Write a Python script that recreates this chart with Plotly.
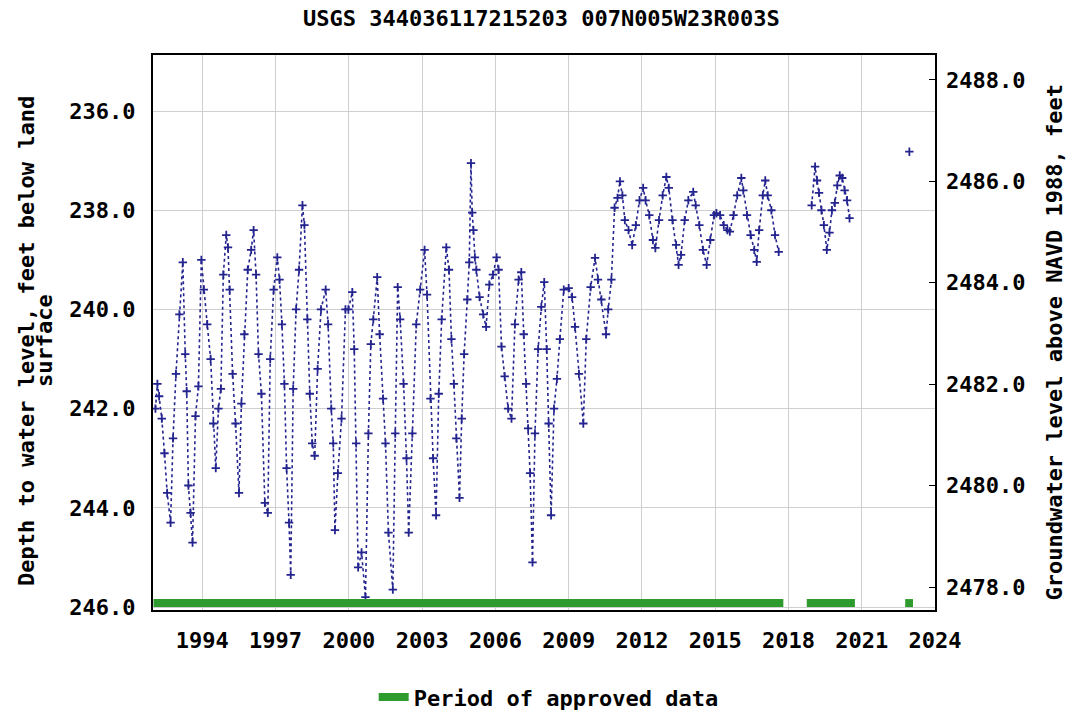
"""USGS kuyu seviyesi grafigi: derinlik (sol eksen) + NAVD 1988 kotu (sag eksen)."""
import plotly.graph_objects as go

_NAVY = "#24248f"
_GREEN = "#2e9b2e"
_FONT = "DejaVu Sans Mono"

TITLE = "USGS 344036117215203 007N005W23R003S"
LEFT_TITLE = ["Depth to water level, feet below land", "surface"]
RIGHT_TITLE = "Groundwater level above NAVD 1988, feet"

# olcum zamanlari (ondalik yil) ve derinlikler (ft, yuzeyden asagi); None = veri boslugu
YEARS = [
    1992.08, 1992.16, 1992.23, 1992.34, 1992.45, 1992.56, 1992.70, 1992.80, 1992.92, 1993.06,
    1993.20, 1993.30, 1993.36, 1993.43, 1993.52, 1993.60, 1993.72, 1993.84, 1993.96, 1994.06,
    1994.20, 1994.34, 1994.45, 1994.55, 1994.66, 1994.76, 1994.86, 1994.98, 1995.05, 1995.12,
    1995.24, 1995.36, 1995.50, 1995.60, 1995.72, 1995.86, 1996.00, 1996.10, 1996.20, 1996.30,
    1996.42, 1996.56, 1996.68, 1996.78, 1996.92, 1997.07, 1997.16, 1997.26, 1997.36, 1997.45,
    1997.55, 1997.62, 1997.72, 1997.84, 1997.96, 1998.10, 1998.18, 1998.30, 1998.40, 1998.50,
    1998.60, 1998.72, 1998.86, 1999.05, 1999.15, 1999.28, 1999.36, 1999.43, 1999.55, 1999.70,
    1999.86, 1999.98, 2000.14, 2000.22, 2000.30, 2000.38, 2000.52, 2000.68, 2000.80, 2000.90,
    2001.00, 2001.16, 2001.26, 2001.40, 2001.50, 2001.62, 2001.80, 2001.90, 2002.00, 2002.10,
    2002.24, 2002.36, 2002.45, 2002.60, 2002.76, 2002.92, 2003.10, 2003.20, 2003.34, 2003.45,
    2003.57, 2003.68, 2003.80, 2003.99, 2004.10, 2004.20, 2004.30, 2004.40, 2004.53, 2004.62,
    2004.72, 2004.85, 2004.93, 2005.00, 2005.05, 2005.10, 2005.16, 2005.22, 2005.35, 2005.50,
    2005.62, 2005.75, 2005.90, 2006.05, 2006.13, 2006.25, 2006.38, 2006.52, 2006.66, 2006.80,
    2006.95, 2007.06, 2007.16, 2007.26, 2007.34, 2007.42, 2007.52, 2007.62, 2007.75, 2007.88,
    2008.00, 2008.10, 2008.18, 2008.28, 2008.40, 2008.52, 2008.64, 2008.80, 2009.00, 2009.14,
    2009.26, 2009.42, 2009.60, 2009.72, 2009.90, 2010.08, 2010.20, 2010.34, 2010.53, 2010.62,
    2010.75, 2010.88, 2011.00, 2011.10, 2011.20, 2011.30, 2011.45, 2011.60, 2011.75, 2011.90,
    2012.05, 2012.15, 2012.30, 2012.45, 2012.55, 2012.70, 2012.85, 2013.00, 2013.10, 2013.25,
    2013.40, 2013.50, 2013.60, 2013.75, 2013.90, 2014.10, 2014.20, 2014.35, 2014.50, 2014.65,
    2014.80, 2014.95, 2015.05, 2015.20, 2015.35, 2015.50, 2015.60, 2015.75, 2015.90, 2016.07,
    2016.15, 2016.30, 2016.45, 2016.60, 2016.70, 2016.80, 2016.95, 2017.05, 2017.15, 2017.30,
    2017.45, 2017.60, None,
    2018.95, 2019.09, 2019.17, 2019.25, 2019.35, 2019.45, 2019.57, 2019.68, 2019.78, 2019.90,
    2020.00, 2020.10, 2020.20, 2020.30, 2020.40, 2020.50, None,
    2022.95,
]
DEPTHS = [
    242.0, 241.5, 241.75, 242.2, 242.9, 243.7, 244.3, 242.6, 241.3, 240.1,
    239.05, 240.9, 241.65, 243.55, 244.1, 244.7, 242.15, 241.55, 239.0, 239.6,
    240.3, 241.0, 242.3, 243.2, 242.0, 241.6, 239.3, 238.5, 238.75, 239.6,
    241.3, 242.3, 243.7, 241.9, 240.5, 239.2, 238.8, 238.4, 239.3, 240.9,
    241.7, 243.9, 244.1, 241.0, 239.6, 238.95, 239.4, 240.3, 241.5, 243.2,
    244.3, 245.35, 241.6, 240.0, 239.2, 237.9, 238.3, 240.2, 241.7, 242.7,
    242.95, 241.2, 240.0, 239.6, 240.3, 242.0, 242.7, 244.45, 243.3, 242.2,
    240.0, 240.0, 239.65, 240.8, 242.7, 245.2, 244.9, 245.8, 242.5, 240.7,
    240.2, 239.35, 240.5, 241.8, 242.7, 244.5, 245.65, 242.5, 239.55, 240.2,
    241.5, 243.0, 244.5, 242.5, 240.3, 239.6, 238.8, 239.7, 241.8, 243.0,
    244.15, 241.7, 240.2, 238.75, 239.2, 240.6, 241.5, 242.6, 243.8, 242.2,
    240.9, 239.8, 239.05, 237.05, 238.05, 238.4, 238.95, 239.2, 239.75, 240.1,
    240.35, 239.5, 239.3, 238.95, 239.2, 240.75, 241.35, 242.0, 242.2, 240.3,
    239.4, 239.25, 240.5, 241.5, 242.4, 243.3, 245.1, 242.5, 240.8, 239.95,
    239.45, 240.8, 242.3, 244.15, 242.0, 241.4, 240.6, 239.6, 239.57, 239.75,
    240.35, 241.3, 242.3, 240.6, 239.55, 238.96, 239.4, 239.8, 240.5, 240.0,
    239.4, 237.95, 237.75, 237.42, 237.7, 238.2, 238.4, 238.7, 238.3, 237.8,
    237.55, 237.8, 238.1, 238.6, 238.76, 238.2, 237.7, 237.33, 237.55, 238.2,
    238.7, 239.1, 238.9, 238.2, 237.8, 237.63, 237.9, 238.3, 238.8, 239.1,
    238.6, 238.1, 238.06, 238.1, 238.3, 238.4, 238.43, 238.1, 237.7, 237.35,
    237.6, 238.1, 238.5, 238.8, 239.04, 238.4, 237.7, 237.4, 237.7, 238.0,
    238.5, 238.84, None,
    237.9, 237.12, 237.4, 237.65, 238.0, 238.3, 238.8, 238.45, 238.0, 237.85,
    237.5, 237.3, 237.35, 237.6, 237.8, 238.16, None,
    236.82,
]

# onayli veri donemleri (alt seritteki yesil bantlar)
APPROVED_START = [1992.0, 2018.75, 2022.78]
APPROVED_END = [2017.79, 2020.72, 2023.1]
APPROVED_DEPTH = 245.92

X_TICKS = [1994, 1997, 2000, 2003, 2006, 2009, 2012, 2015, 2018, 2021, 2024]
DEPTH_TICKS = [236, 238, 240, 242, 244, 246]
ELEV_TICKS = [2478, 2480, 2482, 2484, 2486, 2488]

fig = go.Figure()

fig.add_trace(
    go.Scatter(
        x=YEARS, y=DEPTHS, mode="lines+markers", connectgaps=False,
        line=dict(color=_NAVY, width=1.6, dash="dot"),
        marker=dict(symbol="cross-thin", size=6, line=dict(color=_NAVY, width=1.8)),
        showlegend=False, hoverinfo="skip",
    )
)

# yesil bantlar: her donem ayri bir kalin cizgi, tek lejant girisi
for i, (x0, x1) in enumerate(zip(APPROVED_START, APPROVED_END)):
    fig.add_trace(
        go.Scatter(
            x=[x0, x1], y=[APPROVED_DEPTH, APPROVED_DEPTH], mode="lines",
            line=dict(color=_GREEN, width=8),
            name="Period of approved data", legendgroup="approved",
            showlegend=(i == 0), hoverinfo="skip",
        )
    )

# sag eksen icin bos iz
fig.add_trace(go.Scatter(x=[None], y=[None], yaxis="y2", showlegend=False, hoverinfo="skip"))

font = dict(family=_FONT, size=22, color="black", weight="bold")

# eksen basliklari: satir araligini kontrol etmek icin annotation
annotations = [
    dict(text=LEFT_TITLE[0], x=-0.161, y=0.485, textangle=-90),
    dict(text=LEFT_TITLE[1], x=-0.138, y=0.485, textangle=-90),
    dict(text=RIGHT_TITLE, x=1.153, y=0.483, textangle=-90),
]
for a in annotations:
    a.update(xref="paper", yref="paper", xanchor="center", yanchor="middle",
             showarrow=False, font=font)

fig.update_layout(
    width=1070,
    height=712,
    paper_bgcolor="white",
    plot_bgcolor="white",
    font=font,
    margin=dict(l=153, r=135, t=55, b=102, autoexpand=False),
    title=dict(text=TITLE, x=0.506, xanchor="center", y=0.975, yanchor="middle",
               font=font, automargin=False),
    xaxis=dict(
        range=[1991.98, 2024.0], tickvals=X_TICKS, ticktext=[str(t) for t in X_TICKS],
        showgrid=True, gridcolor="#cfcfcf", gridwidth=1, zeroline=False,
        showline=True, linecolor="black", linewidth=2, mirror=True,
        ticks="outside", ticklen=10, tickcolor="rgba(0,0,0,0)", automargin=False,
    ),
    yaxis=dict(
        range=[246.06, 234.87], tickvals=DEPTH_TICKS, tickformat=".1f",
        showgrid=True, gridcolor="#cfcfcf", gridwidth=1, zeroline=False,
        showline=True, linecolor="black", linewidth=2, mirror=True,
        ticks="outside", ticklen=11, tickcolor="rgba(0,0,0,0)", automargin=False,
    ),
    yaxis2=dict(
        overlaying="y", side="right", range=[2477.55, 2488.49],
        tickvals=ELEV_TICKS, tickformat=".1f", showgrid=False, zeroline=False,
        ticks="inside", ticklen=6, tickcolor="black", tickwidth=1,
        ticklabelstandoff=10, automargin=False,
    ),
    legend=dict(orientation="h", x=0.506, xanchor="center", y=-0.157, yanchor="middle",
                font=font, bgcolor="rgba(0,0,0,0)"),
    annotations=annotations,
)

# sayfa govdesinin varsayilan 8px kenar boslugunu kaldir, arac cubugunu gizle
fig.write_html(
    "out.html",
    config={"displayModeBar": False},
    post_script="document.body.style.margin = '0';",
)
